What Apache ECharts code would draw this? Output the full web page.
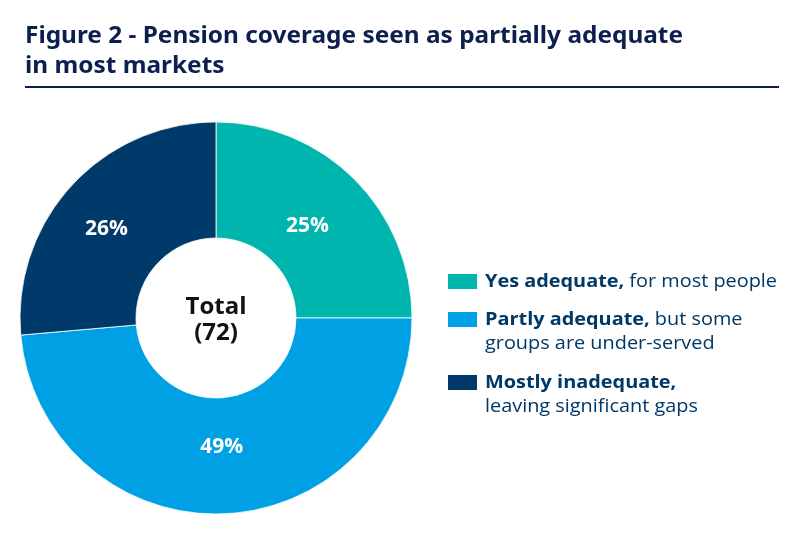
<!DOCTYPE html>
<html><head><meta charset="utf-8">
<script src="https://cdn.jsdelivr.net/npm/echarts@6/dist/echarts.min.js"></script>
<style>html,body{margin:0;padding:0;background:#fff}#c{width:800px;height:554px}</style>
</head><body><div id="c"></div>
<script>
var categories = ['Yes adequate', 'Partly adequate', 'Mostly inadequate'];
var counts = [18, 35, 19];
var total = 72;
var colors = ['#00b5ae', '#00a0e4', '#003a6a'];
var legendBold = ['Yes adequate,', 'Partly adequate,', 'Mostly inadequate,'];
var legendRest = [[' for most people'], [' but some', 'groups are under-served'], ['', 'leaving significant gaps']];
var titleLines = ['Figure 2 - Pension coverage seen as partially adequate', 'in most markets'];
var centerLines = ['Total', '(' + total + ')'];

var chart = echarts.init(document.getElementById('c'), null, {renderer: 'canvas'});
var data = categories.map(function (c, i) { return {name: c, value: counts[i], itemStyle: {color: colors[i]}}; });

var titleFont = 'bold 24px "Noto Sans"';
var cv = document.createElement('canvas').getContext('2d');
cv.font = titleFont;
var sx = 658 / cv.measureText(titleLines[0]).width;

var legB = 'bold 18px "Open Sans"', legR = '18px "Open Sans"';
cv.font = legB; var wb = cv.measureText(legendBold[0]).width;
cv.font = legR; var wr = cv.measureText(legendRest[0][0]).width;
var lsx = 292 / (wb + wr);

var textCol = '#003866';
var graphics = [
  {type: 'text', left: 25, top: 24, scaleX: sx, style: {text: titleLines[0], font: titleFont, fill: '#0c1f50'}},
  {type: 'text', left: 25, top: 54, scaleX: sx, style: {text: titleLines[1], font: titleFont, fill: '#0c1f50'}},
  {type: 'rect', shape: {x: 25, y: 86, width: 754, height: 2}, style: {fill: '#0c1f50'}},
  {type: 'text', x: 216, y: 307, style: {text: centerLines[0], font: 'bold 24px "Open Sans"', fill: '#111', align: 'center', verticalAlign: 'middle'}},
  {type: 'text', x: 216, y: 333, style: {text: centerLines[1], font: 'bold 24px "Open Sans"', fill: '#111', align: 'center', verticalAlign: 'middle'}}
];
var legY = [274, 312, 375];
categories.forEach(function (c, i) {
  graphics.push({type: 'rect', shape: {x: 448, y: legY[i], width: 29, height: 15}, style: {fill: colors[i]}});
  var lines = legendRest[i];
  var txt = '{b|' + legendBold[i] + '}{r|' + lines[0] + '}';
  for (var k = 1; k < lines.length; k++) txt += '\n{r|' + lines[k] + '}';
  graphics.push({type: 'text', x: 485, y: legY[i] + 7.5 - 12, scaleX: lsx, style: {
    text: txt, verticalAlign: 'top', fill: textCol,
    rich: {
      b: {font: legB, fill: textCol, lineHeight: 24},
      r: {font: legR, fill: textCol, lineHeight: 24}
    }
  }});
});

chart.setOption({
  backgroundColor: '#fff',
  animation: false,
  graphic: graphics,
  series: [
    {
      type: 'pie', center: [216, 318], radius: [80, 196], startAngle: 90, clockwise: true,
      itemStyle: {borderColor: '#ffffff', borderWidth: 0.8},
      label: {show: false}, labelLine: {show: false}, silent: true,
      data: data
    },
    {
      type: 'pie', center: [216, 318], radius: [57, 196], startAngle: 90, clockwise: true,
      itemStyle: {color: 'rgba(0,0,0,0)'}, silent: true, z: 3,
      label: {show: true, position: 'inside', color: '#fff', fontFamily: 'Open Sans', fontWeight: 'bold', fontSize: 21,
        formatter: function (p) { return Math.round(p.percent) + '%'; }},
      labelLine: {show: false},
      labelLayout: function (p) { return p.dataIndex === 2 ? {dx: -14, dy: -1} : {}; },
      data: categories.map(function (c, i) { return {name: c, value: counts[i]}; })
    }
  ]
});
</script></body></html>
